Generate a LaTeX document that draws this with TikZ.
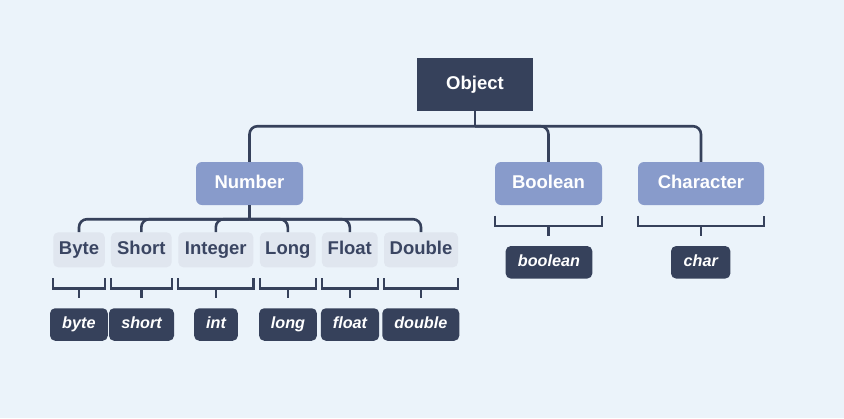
\documentclass[tikz,border=0pt]{standalone}
\usepackage{fontspec}
\setmainfont{Liberation Sans}
\usetikzlibrary{calc}

\definecolor{bgblue}{HTML}{EBF3FA}
\definecolor{navy}{HTML}{36415B}
\definecolor{periwinkle}{HTML}{889BCB}
\definecolor{paleslate}{HTML}{E0E6EF}
\definecolor{slatetext}{HTML}{3A4562}

\tikzset{
  rootbox/.style={fill=navy, text=white, font=\fontsize{18.5}{22}\selectfont\bfseries,
    minimum width=116, minimum height=53, inner sep=0, text height=0.9em, text depth=0em},
  classbox/.style={fill=periwinkle, text=white, rounded corners=6,
    font=\fontsize{18.5}{22}\selectfont\bfseries,
    minimum height=43, inner sep=0, text height=0.9em, text depth=0em},
  subbox/.style={fill=paleslate, text=slatetext, rounded corners=5,
    font=\fontsize{18.5}{22}\selectfont\bfseries,
    minimum height=35, inner sep=0, text height=0.9em, text depth=0em},
  primbox/.style={fill=navy, text=white, rounded corners=5,
    font=\fontsize{16.2}{20}\selectfont\bfseries\itshape,
    minimum height=32.5, inner sep=0, text height=0.86em, text depth=0em},
  link/.style={draw=navy, line width=2.6, rounded corners=8},
  brace/.style={draw=navy, line width=2.5},
}

\begin{document}
\begin{tikzpicture}[x=1pt, y=-1pt]
  % canvas
  \fill[bgblue] (0,0) rectangle (844,418);
  \useasboundingbox (0,0) rectangle (844,418);

  % root and wrapper classes
  \node[rootbox] (object) at (475,84.5) {Object};
  \node[classbox, minimum width=107] (number) at (249.5,183.5) {Number};
  \node[classbox, minimum width=107] (boolean) at (548.5,183.5) {Boolean};
  \node[classbox, minimum width=126] (character) at (701,183.5) {Character};

  % numeric wrapper classes
  \node[subbox, minimum width=51.5] (byte) at (79,249.8) {Byte};
  \node[subbox, minimum width=60.7] (short) at (141.3,249.8) {Short};
  \node[subbox, minimum width=75] (integer) at (215.8,249.8) {Integer};
  \node[subbox, minimum width=55.7] (long) at (287.8,249.8) {Long};
  \node[subbox, minimum width=55.7] (float) at (349.8,249.8) {Float};
  \node[subbox, minimum width=74] (double) at (421,249.8) {Double};

  % primitive types
  \node[primbox, minimum width=57.7] (pbyte) at (78.9,324.5) {byte};
  \node[primbox, minimum width=65] (pshort) at (141.5,324.5) {short};
  \node[primbox, minimum width=43.7] (pint) at (216,324.5) {int};
  \node[primbox, minimum width=57.7] (plong) at (288,324.5) {long};
  \node[primbox, minimum width=58.3] (pfloat) at (350,324.5) {float};
  \node[primbox, minimum width=77] (pdouble) at (420.8,324.5) {double};
  \node[primbox, minimum width=86.6] (pboolean) at (549,262.3) {boolean};
  \node[primbox, minimum width=59.3] (pchar) at (700.7,262.3) {char};

  % Object -> wrapper classes
  \coordinate (objbus) at ($(object.south)+(0,15)$);
  \draw[link] (object.south) -- (objbus);
  \draw[link] (objbus) -| (number.north);
  \draw[link] (objbus) -| (boolean.north);
  \draw[link] (objbus) -| (character.north);

  % Number -> numeric classes
  \coordinate (numbus) at ($(number.south)+(0,14)$);
  \draw[link] (number.south) -- (numbus);
  \foreach \c in {byte,short,integer,long,float,double}
    \draw[link] (numbus) -| (\c.north);

  % brackets below each wrapper, with a stem toward its primitive
  \foreach \c/\p in {byte/pbyte,short/pshort,integer/pint,long/plong,
                     float/pfloat,double/pdouble,boolean/pboolean,character/pchar}{
    \draw[brace] ($(\c.south west)+(0,10.5)$) -- ($(\c.south west)+(0,21)$)
      -- ($(\c.south east)+(0,21)$) -- ($(\c.south east)+(0,10.5)$);
    \coordinate (\c-tip) at (\c.south |- \p.north);
    \draw[brace] ($(\c.south)+(0,21)$) -- ($(\c-tip)+(0,-10)$);
  }
\end{tikzpicture}
\end{document}
